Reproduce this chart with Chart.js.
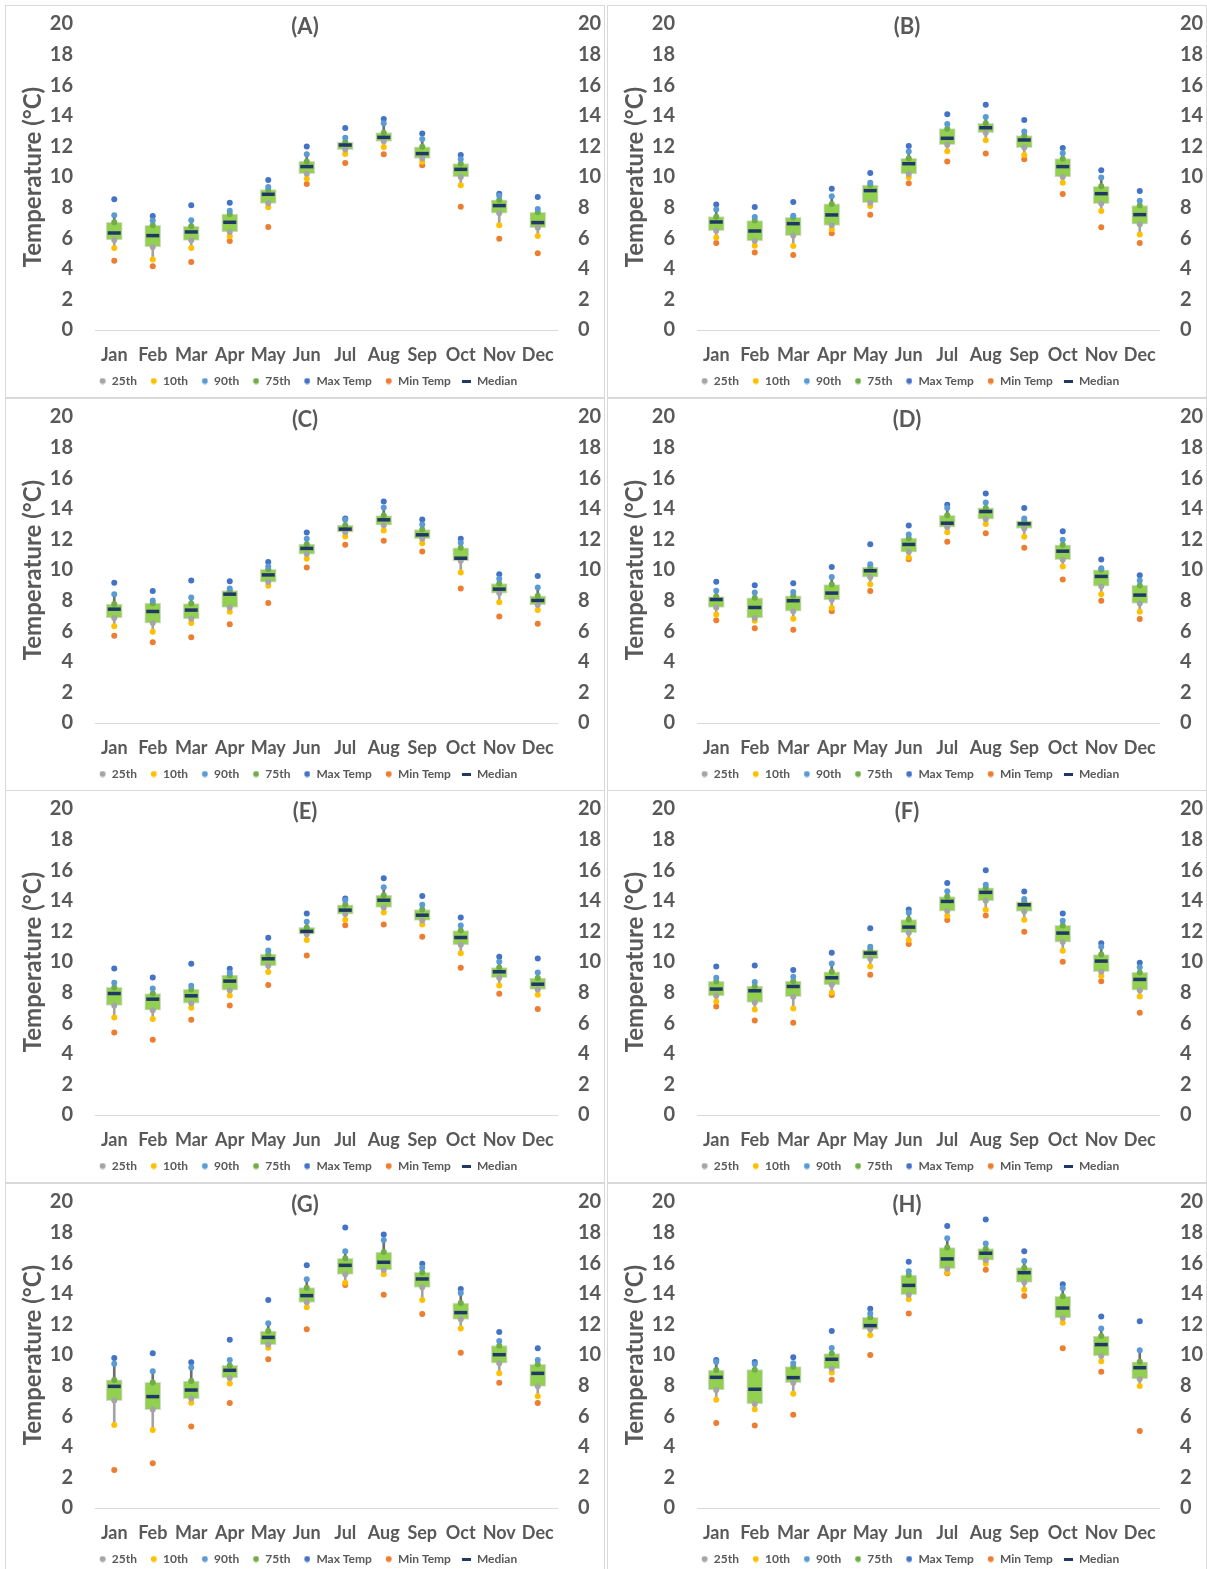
<!DOCTYPE html>
<html>
<head>
<meta charset="utf-8">
<script src="https://cdn.jsdelivr.net/npm/chart.js@4.4.1/dist/chart.umd.min.js"></script>
<style>
  html, body { margin: 0; padding: 0; background: #ffffff; overflow: hidden; }
  body { width: 1207px; height: 1569px; position: relative; }
  .panel { position: absolute; width: 600px; height: 393px; box-sizing: border-box; border: 1px solid #d9d9d9; background: #fff; }
  .panel canvas { position: absolute; left: 0; top: 0; }
</style>
</head>
<body>
<script>
// ---- categories and axis ----
const months = ['Jan', 'Feb', 'Mar', 'Apr', 'May', 'Jun', 'Jul', 'Aug', 'Sep', 'Oct', 'Nov', 'Dec'];
const yMin = 0, yMax = 20, yStep = 2;
const panelLetters = ['A', 'B', 'C', 'D', 'E', 'F', 'G', 'H'];

// ---- monthly temperature statistics (°C) per site ----
const A_min = [4.53, 4.16, 4.44, 5.82, 6.73, 9.54, 10.92, 11.48, 10.76, 8.06, 5.97, 5.01];
const A_p10 = [5.36, 4.60, 5.36, 6.12, 8.02, 9.89, 11.50, 11.96, 11.00, 9.46, 6.84, 6.14];
const A_p25 = [5.88, 5.43, 5.86, 6.41, 8.28, 10.22, 11.79, 12.33, 11.22, 10.00, 7.63, 6.69];
const A_med = [6.34, 6.17, 6.41, 7.04, 8.87, 10.68, 12.09, 12.59, 11.53, 10.50, 8.13, 7.02];
const A_p75 = [7.04, 6.84, 6.78, 7.58, 9.17, 11.02, 12.29, 12.90, 11.98, 10.87, 8.50, 7.69];
const A_p90 = [7.50, 7.15, 7.17, 7.80, 9.35, 11.48, 12.57, 13.51, 12.48, 11.16, 8.78, 7.91];
const A_max = [8.54, 7.45, 8.15, 8.32, 9.80, 12.00, 13.20, 13.79, 12.85, 11.44, 8.91, 8.69];

const B_min = [5.69, 5.06, 4.90, 6.32, 7.54, 9.59, 11.02, 11.53, 11.16, 8.89, 6.71, 5.69];
const B_p10 = [6.04, 5.51, 5.49, 6.58, 8.10, 9.98, 11.68, 12.40, 11.44, 9.63, 7.78, 6.25];
const B_p25 = [6.49, 5.82, 6.17, 6.84, 8.32, 10.20, 12.11, 12.90, 11.92, 10.00, 8.26, 6.91];
const B_med = [7.06, 6.47, 6.95, 7.52, 9.11, 10.87, 12.53, 13.22, 12.42, 10.68, 8.91, 7.54];
const B_p75 = [7.41, 7.15, 7.36, 8.24, 9.48, 11.22, 13.16, 13.51, 12.70, 11.20, 9.39, 8.13];
const B_p90 = [7.87, 7.39, 7.47, 8.74, 9.63, 11.66, 13.46, 13.92, 12.98, 11.55, 9.96, 8.45];
const B_max = [8.21, 8.04, 8.37, 9.24, 10.26, 12.03, 14.10, 14.73, 13.73, 11.90, 10.44, 9.09];

const C_min = [5.70, 5.28, 5.61, 6.46, 7.85, 10.16, 11.65, 11.91, 11.21, 8.79, 6.96, 6.48];
const C_p10 = [6.33, 5.96, 6.53, 7.27, 8.97, 10.73, 12.19, 12.58, 11.75, 9.84, 7.90, 7.38];
const C_p25 = [6.87, 6.53, 6.81, 7.55, 9.21, 11.04, 12.47, 12.93, 12.04, 10.60, 8.49, 7.72];
const C_med = [7.44, 7.29, 7.38, 8.42, 9.68, 11.41, 12.67, 13.28, 12.30, 10.77, 8.75, 8.01];
const C_p75 = [7.77, 7.83, 7.81, 8.66, 10.05, 11.69, 12.93, 13.56, 12.65, 11.45, 9.12, 8.31];
const C_p90 = [8.42, 8.01, 8.20, 8.79, 10.23, 12.04, 13.28, 14.09, 12.97, 11.78, 9.42, 8.86];
const C_max = [9.16, 8.62, 9.31, 9.27, 10.53, 12.45, 13.37, 14.48, 13.30, 12.04, 9.73, 9.60];

const D_min = [6.72, 6.20, 6.09, 7.31, 8.62, 10.71, 11.84, 12.41, 11.45, 9.38, 7.99, 6.79];
const D_p10 = [7.09, 6.68, 6.81, 7.51, 9.07, 10.82, 12.47, 13.00, 12.17, 10.23, 8.42, 7.27];
const D_p25 = [7.55, 6.87, 7.31, 8.05, 9.53, 11.17, 12.80, 13.32, 12.71, 10.67, 8.94, 7.81];
const D_med = [8.07, 7.55, 7.99, 8.49, 9.95, 11.67, 13.06, 13.82, 13.02, 11.23, 9.58, 8.36];
const D_p75 = [8.27, 8.18, 8.31, 9.05, 10.19, 12.08, 13.58, 14.06, 13.21, 11.65, 10.01, 8.99];
const D_p90 = [8.64, 8.53, 8.57, 9.55, 10.38, 12.32, 14.06, 14.41, 13.37, 11.97, 10.12, 9.31];
const D_max = [9.23, 9.01, 9.14, 10.19, 11.69, 12.91, 14.26, 15.00, 14.06, 12.54, 10.69, 9.66];

const E_min = [5.40, 4.92, 6.22, 7.16, 8.49, 10.43, 12.41, 12.45, 11.65, 9.62, 7.92, 6.92];
const E_p10 = [6.38, 6.27, 7.01, 7.81, 9.34, 11.43, 12.76, 13.24, 12.45, 10.58, 8.47, 7.86];
const E_p25 = [7.16, 6.85, 7.31, 8.16, 9.75, 11.82, 13.13, 13.57, 12.72, 11.12, 8.97, 8.21];
const E_med = [7.94, 7.57, 7.79, 8.75, 10.21, 12.00, 13.39, 14.04, 13.06, 11.60, 9.36, 8.55];
const E_p75 = [8.34, 7.94, 8.21, 9.14, 10.51, 12.26, 13.74, 14.37, 13.43, 12.06, 9.64, 8.95];
const E_p90 = [8.64, 8.27, 8.45, 9.29, 10.75, 12.63, 14.04, 14.89, 13.74, 12.39, 10.01, 9.32];
const E_max = [9.58, 8.99, 9.88, 9.56, 11.58, 13.17, 14.15, 15.48, 14.31, 12.91, 10.34, 10.23];

const F_min = [7.09, 6.18, 6.03, 7.84, 9.16, 11.17, 12.74, 13.04, 11.97, 10.01, 8.75, 6.68];
const F_p10 = [7.42, 6.90, 6.96, 7.99, 9.71, 11.43, 13.02, 13.41, 12.76, 10.73, 9.08, 7.75];
const F_p25 = [7.79, 7.36, 7.73, 8.51, 10.21, 11.91, 13.33, 14.00, 13.30, 11.30, 9.36, 8.16];
const F_med = [8.23, 8.12, 8.40, 8.97, 10.58, 12.28, 13.96, 14.55, 13.74, 11.89, 10.06, 8.86];
const F_p75 = [8.73, 8.42, 8.75, 9.36, 10.80, 12.78, 14.28, 14.85, 13.94, 12.39, 10.49, 9.32];
const F_p90 = [8.97, 8.69, 9.03, 9.91, 10.99, 13.22, 14.63, 15.05, 14.11, 12.69, 10.99, 9.66];
const F_max = [9.71, 9.77, 9.47, 10.60, 12.21, 13.43, 15.16, 16.00, 14.61, 13.17, 11.23, 9.95];

const G_min = [2.48, 2.92, 5.32, 6.86, 9.72, 11.68, 14.58, 13.94, 12.68, 10.15, 8.19, 6.86];
const G_p10 = [5.43, 5.10, 6.88, 8.13, 10.48, 13.12, 14.73, 15.27, 13.59, 11.74, 8.80, 7.30];
const G_p25 = [7.02, 6.43, 7.15, 8.50, 10.68, 13.44, 15.27, 15.56, 14.42, 12.33, 9.46, 7.95];
const G_med = [7.95, 7.28, 7.71, 9.00, 11.15, 13.88, 15.86, 16.06, 14.97, 12.77, 10.02, 8.80];
const G_p75 = [8.37, 8.21, 8.30, 9.32, 11.57, 14.40, 16.32, 16.73, 15.40, 13.40, 10.61, 9.39];
const G_p90 = [9.43, 8.93, 9.19, 9.67, 12.07, 14.95, 16.78, 17.52, 15.71, 14.05, 10.92, 9.67];
const G_max = [9.80, 10.11, 9.52, 11.00, 13.59, 15.86, 18.34, 17.87, 15.97, 14.31, 11.50, 10.44];

const H_min = [5.56, 5.40, 6.10, 8.39, 10.00, 12.72, 15.34, 15.58, 13.86, 10.44, 8.91, 5.03];
const H_p10 = [7.08, 6.45, 7.47, 8.85, 11.29, 13.64, 15.40, 15.97, 14.27, 12.11, 9.59, 7.97];
const H_p25 = [7.71, 6.80, 8.19, 9.11, 11.68, 13.94, 15.64, 16.19, 14.75, 12.42, 9.94, 8.43];
const H_med = [8.54, 7.76, 8.52, 9.72, 11.92, 14.55, 16.28, 16.65, 15.38, 13.07, 10.68, 9.17];
const H_p75 = [9.02, 9.04, 9.24, 10.09, 12.46, 15.23, 17.02, 16.95, 15.71, 13.84, 11.24, 9.56];
const H_p90 = [9.54, 9.41, 9.46, 10.46, 12.72, 15.47, 17.63, 17.28, 16.14, 14.36, 11.74, 10.31];
const H_max = [9.67, 9.54, 9.85, 11.57, 13.03, 16.10, 18.43, 18.85, 16.78, 14.62, 12.51, 12.20];

const sites = {
  A: { min: A_min, p10: A_p10, p25: A_p25, med: A_med, p75: A_p75, p90: A_p90, max: A_max },
  B: { min: B_min, p10: B_p10, p25: B_p25, med: B_med, p75: B_p75, p90: B_p90, max: B_max },
  C: { min: C_min, p10: C_p10, p25: C_p25, med: C_med, p75: C_p75, p90: C_p90, max: C_max },
  D: { min: D_min, p10: D_p10, p25: D_p25, med: D_med, p75: D_p75, p90: D_p90, max: D_max },
  E: { min: E_min, p10: E_p10, p25: E_p25, med: E_med, p75: E_p75, p90: E_p90, max: E_max },
  F: { min: F_min, p10: F_p10, p25: F_p25, med: F_med, p75: F_p75, p90: F_p90, max: F_max },
  G: { min: G_min, p10: G_p10, p25: G_p25, med: G_med, p75: G_p75, p90: G_p90, max: G_max },
  H: { min: H_min, p10: H_p10, p25: H_p25, med: H_med, p75: H_p75, p90: H_p90, max: H_max }
};

// ---- styling ----
const TEXT = '#595959';
const FONT = 'Lato, "Open Sans", sans-serif';
const COLORS = {
  p25: '#a5a5a5', p10: '#ffc000', p90: '#5b9bd5', p75: '#70ad47',
  max: '#4472c4', min: '#ed7d31', med: '#1f3864',
  box: '#92d050', boxEdge: '#d9d9d9', lowWhisker: '#a3a3a3', highWhisker: '#6e6e6e'
};
Chart.defaults.font.family = FONT;
Chart.defaults.color = TEXT;

const CANVAS_W = 598, CANVAS_H = 391;
const colX = [6, 608];
const rowY = [6, 399, 791, 1184];

// legend markers: a small dot (or a short dash) at the right end of a 13 px cell
const SWATCH_W = 13;
function dotSwatch(color) {
  const c = document.createElement('canvas');
  c.width = SWATCH_W; c.height = 7;
  const g = c.getContext('2d');
  g.fillStyle = color;
  g.beginPath();
  g.arc(SWATCH_W - 3.2, 3.5, 2.9, 0, Math.PI * 2);
  g.fill();
  return c;
}
function dashSwatch(color) {
  const c = document.createElement('canvas');
  c.width = SWATCH_W; c.height = 3;
  const g = c.getContext('2d');
  g.fillStyle = color;
  g.fillRect(4, 0, SWATCH_W - 4, 3);
  return c;
}
const legendMarks = {
  '25th': dotSwatch(COLORS.p25), '10th': dotSwatch(COLORS.p10), '90th': dotSwatch(COLORS.p90),
  '75th': dotSwatch(COLORS.p75), 'Max Temp': dotSwatch(COLORS.max), 'Min Temp': dotSwatch(COLORS.min),
  'Median': dashSwatch(COLORS.med)
};

// draws the "(X)" heading inside the top band of each panel
const panelTitle = {
  id: 'panelTitle',
  afterDraw(chart, args, opts) {
    const ctx = chart.ctx;
    ctx.save();
    ctx.font = 'bold 22px ' + FONT;
    ctx.fillStyle = TEXT;
    ctx.textAlign = 'center';
    ctx.textBaseline = 'middle';
    ctx.fillText(opts.text, chart.width / 2, 21);
    ctx.restore();
  }
};

function dotSeries(label, data, color) {
  return {
    type: 'line', label, data, showLine: false,
    pointRadius: 3, pointHoverRadius: 3, pointBorderWidth: 0,
    pointBackgroundColor: color, backgroundColor: color, borderColor: color,
    order: 2
  };
}

function buildPanel(letter, idx) {
  const s = sites[letter];
  const col = idx % 2, row = Math.floor(idx / 2);
  const frame = document.createElement('div');
  frame.className = 'panel';
  frame.style.left = (colX[col] - 1) + 'px';
  frame.style.top = (rowY[row] - 1) + 'px';
  const canvas = document.createElement('canvas');
  canvas.width = CANVAS_W; canvas.height = CANVAS_H;
  canvas.style.width = CANVAS_W + 'px'; canvas.style.height = CANVAS_H + 'px';
  frame.appendChild(canvas);
  document.body.appendChild(frame);

  const boxes = s.p25.map((v, i) => [v, s.p75[i]]);
  const lower = s.p10.map((v, i) => [v, s.p25[i]]);
  const upper = s.p75.map((v, i) => [v, s.p90[i]]);

  const tickFont = { size: 20, weight: 'bold' };

  new Chart(canvas, {
    type: 'bar',
    data: {
      labels: months,
      datasets: [
        dotSeries('25th', s.p25, COLORS.p25),
        dotSeries('10th', s.p10, COLORS.p10),
        dotSeries('90th', s.p90, COLORS.p90),
        dotSeries('75th', s.p75, COLORS.p75),
        dotSeries('Max Temp', s.max, COLORS.max),
        dotSeries('Min Temp', s.min, COLORS.min),
        {
          type: 'line', label: 'Median', data: s.med, showLine: false,
          pointStyle: 'line', pointRadius: 6.5, pointHoverRadius: 6.5,
          pointBorderWidth: 3.5, pointBorderColor: COLORS.med,
          borderColor: COLORS.med, backgroundColor: COLORS.med, order: 1
        },
        {
          type: 'bar', label: 'IQR', data: boxes, grouped: false,
          backgroundColor: COLORS.box, borderColor: COLORS.boxEdge, borderWidth: 1,
          borderSkipped: false, barThickness: 16, order: 3
        },
        {
          type: 'bar', label: 'lower whisker', data: lower, grouped: false,
          backgroundColor: COLORS.lowWhisker, borderWidth: 0, barThickness: 2, order: 4
        },
        {
          type: 'bar', label: 'upper whisker', data: upper, grouped: false,
          backgroundColor: COLORS.highWhisker, borderWidth: 0, barThickness: 2, order: 4
        }
      ]
    },
    options: {
      responsive: false,
      animation: false,
      devicePixelRatio: 1,
      events: [],
      layout: { padding: { top: 18, left: 0, right: 0, bottom: 0 } },
      scales: {
        x: {
          type: 'category', offset: true,
          grid: { display: false, drawTicks: false },
          border: { display: true, color: '#d9d9d9', width: 1 },
          ticks: { color: TEXT, font: { size: 18, weight: 'bold' }, padding: 14, maxRotation: 0, autoSkip: false },
          afterFit: (sc) => { sc.height = 38; }
        },
        y: {
          position: 'left', min: yMin, max: yMax,
          grid: { display: false, drawTicks: false }, border: { display: false },
          ticks: { stepSize: yStep, color: TEXT, font: tickFont, padding: 22 },
          title: {
            display: true, text: 'Temperature (°C)', color: TEXT,
            font: { size: 24, weight: 'bold' }, padding: { top: 13, bottom: 0 }
          },
          afterFit: (sc) => { sc.width = 89; sc.paddingTop = 0; sc.paddingBottom = 0; }
        },
        y2: {
          position: 'right', min: yMin, max: yMax,
          grid: { display: false, drawTicks: false }, border: { display: false },
          ticks: { stepSize: yStep, color: TEXT, font: tickFont, padding: 21 },
          afterFit: (sc) => { sc.width = 47; sc.paddingTop = 0; sc.paddingBottom = 0; }
        }
      },
      plugins: {
        tooltip: { enabled: false },
        panelTitle: { text: '(' + letter + ')' },
        legend: {
          position: 'bottom', align: 'center',
          labels: {
            usePointStyle: true, pointStyleWidth: SWATCH_W, boxHeight: 4, padding: 7,
            color: TEXT, font: { size: 12, weight: 'bold' },
            filter: (item) => item.datasetIndex < 7,
            sort: (a, b) => a.datasetIndex - b.datasetIndex,
            generateLabels: (chart) => {
              const items = Chart.defaults.plugins.legend.labels.generateLabels(chart);
              items.forEach((it) => {
                if (legendMarks[it.text]) { it.pointStyle = legendMarks[it.text]; }
                it.lineWidth = 0;
              });
              return items;
            }
          }
        }
      }
    },
    plugins: [panelTitle]
  });
}

panelLetters.forEach(buildPanel);
</script>
</body>
</html>
